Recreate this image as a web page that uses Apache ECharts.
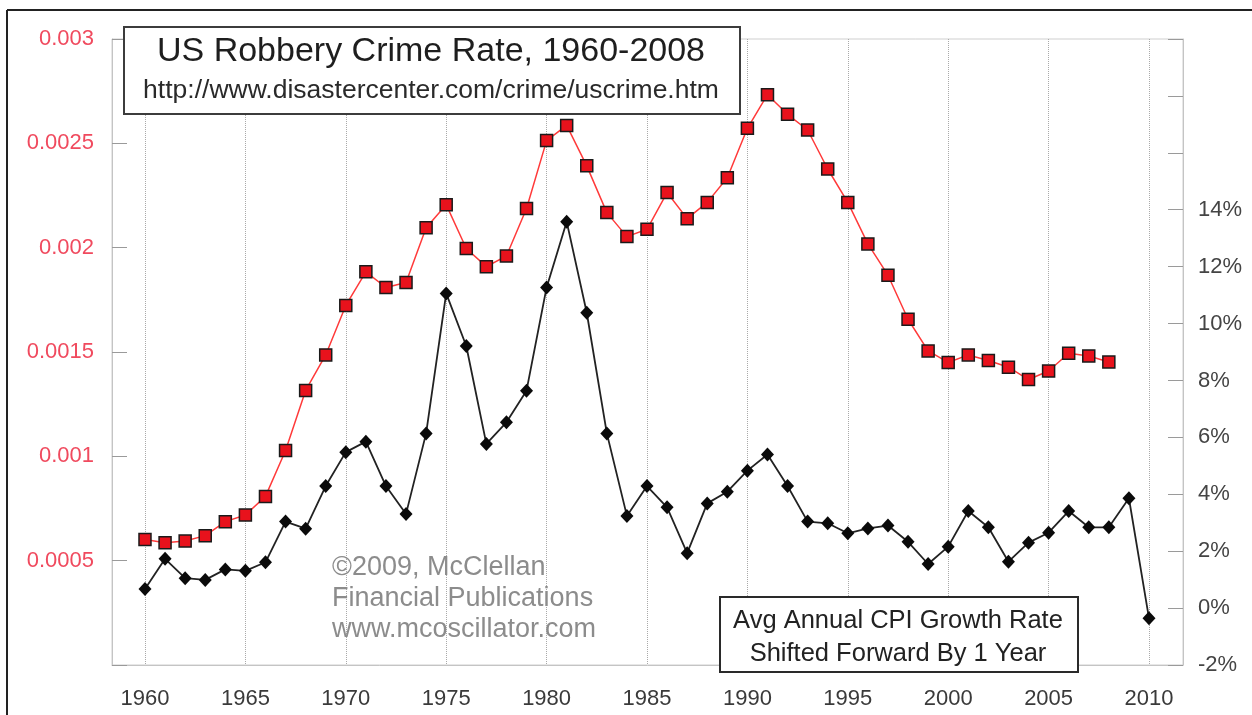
<!DOCTYPE html>
<html>
<head>
<meta charset="utf-8">
<script src="https://cdn.jsdelivr.net/npm/echarts@6/dist/echarts.min.js"></script>
<style>html,body{margin:0;padding:0;background:#fff;}#chart{width:1252px;height:715px;}</style>
</head>
<body>
<div id="chart"></div>
<script>
// ---- data ----
const robberyYears = [1960,1961,1962,1963,1964,1965,1966,1967,1968,1969,1970,1971,1972,1973,1974,1975,1976,1977,1978,1979,1980,1981,1982,1983,1984,1985,1986,1987,1988,1989,1990,1991,1992,1993,1994,1995,1996,1997,1998,1999,2000,2001,2002,2003,2004,2005,2006,2007,2008];
const robberyRate = [0.000601,0.000586,0.000594,0.000620,0.000687,0.000719,0.000808,0.001028,0.001316,0.001486,0.001723,0.001884,0.001809,0.001833,0.002095,0.002206,0.001996,0.001909,0.001960,0.002188,0.002513,0.002586,0.002392,0.002168,0.002053,0.002088,0.002264,0.002139,0.002217,0.002335,0.002572,0.002733,0.002639,0.002564,0.002377,0.002217,0.002018,0.001868,0.001657,0.001505,0.001450,0.001486,0.001459,0.001427,0.001368,0.001409,0.001494,0.001481,0.001452];
const cpiYears = [1960,1961,1962,1963,1964,1965,1966,1967,1968,1969,1970,1971,1972,1973,1974,1975,1976,1977,1978,1979,1980,1981,1982,1983,1984,1985,1986,1987,1988,1989,1990,1991,1992,1993,1994,1995,1996,1997,1998,1999,2000,2001,2002,2003,2004,2005,2006,2007,2008,2009,2010];
const cpiGrowth = [0.67,1.73,1.05,0.99,1.36,1.31,1.61,3.04,2.79,4.29,5.48,5.85,4.29,3.31,6.14,11.06,9.21,5.77,6.53,7.64,11.27,13.58,10.38,6.14,3.24,4.29,3.54,1.93,3.68,4.09,4.83,5.40,4.29,3.04,2.98,2.63,2.80,2.90,2.33,1.55,2.16,3.41,2.84,1.63,2.30,2.65,3.41,2.84,2.84,3.86,-0.36];
const xTickYears = [1960,1965,1970,1975,1980,1985,1990,1995,2000,2005,2010];
const titleText = 'US Robbery Crime Rate, 1960-2008';
const subtitleText = 'http://www.disastercenter.com/crime/uscrime.htm';
const watermarkLines = ['\u00a92009, McClellan', 'Financial Publications', 'www.mcoscillator.com'];
const noteLines = ['Avg Annual CPI Growth Rate', 'Shifted Forward By 1 Year'];

const FONT = "'Liberation Sans', Arial, sans-serif";

const chart = echarts.init(document.getElementById('chart'), null, {renderer: 'canvas'});
const option = {
  backgroundColor: '#ffffff',
  animation: false,
  grid: {left: 112, right: 69, top: 39, bottom: 50, show: true, borderColor: '#cfcfcf', borderWidth: 1},
  xAxis: {
    type: 'value', min: 1958.357, max: 2011.693,
    axisLine: {show: true, lineStyle: {color: '#c4c4c4', width: 1}},
    axisTick: {show: false, customValues: xTickYears},
    axisLabel: {customValues: xTickYears, color: '#3a3a3a', fontFamily: FONT, fontSize: 22, margin: 23,
      formatter: v => String(Math.round(v))},
    splitLine: {show: true, lineStyle: {type: 'dotted', color: '#a9a9a9', width: 1}}
  },
  yAxis: [
    {
      type: 'value', min: 0, max: 0.003, interval: 0.0005, position: 'left',
      axisLine: {show: true, lineStyle: {color: '#c4c4c4'}},
      axisTick: {show: true, inside: true, length: 15, lineStyle: {color: '#9a9a9a'}},
      axisLabel: {color: '#f04a5e', fontFamily: FONT, fontSize: 22, margin: 18,
        formatter: v => v === 0 ? '' : String(Number(v.toFixed(4)))},
      splitLine: {show: false}
    },
    {
      type: 'value', min: -2, max: 20, interval: 2, position: 'right',
      axisLine: {show: true, lineStyle: {color: '#c4c4c4'}},
      axisTick: {show: true, inside: true, length: 15, lineStyle: {color: '#9a9a9a'}},
      axisLabel: {color: '#444444', fontFamily: FONT, fontSize: 22, margin: 15,
        formatter: v => v <= 14 ? v + '%' : ''},
      splitLine: {show: false}
    }
  ],
  series: [
    {
      type: 'line', name: 'Robbery rate', yAxisIndex: 0, z: 3,
      data: robberyYears.map((y, i) => [y, robberyRate[i]]),
      lineStyle: {color: '#ff3a3a', width: 1.5},
      symbol: 'rect', symbolSize: 12,
      itemStyle: {color: '#e8121c', borderColor: '#1a1a1a', borderWidth: 1.5}
    },
    {
      type: 'line', name: 'CPI growth', yAxisIndex: 1, z: 3,
      data: cpiYears.map((y, i) => [y, cpiGrowth[i]]),
      lineStyle: {color: '#222222', width: 1.8},
      symbol: 'diamond', symbolSize: [13, 14],
      itemStyle: {color: '#0a0a0a', borderColor: '#0a0a0a', borderWidth: 0}
    }
  ],
  graphic: [
    {type: 'line', shape: {x1: 7, y1: 10, x2: 1252, y2: 10}, style: {stroke: '#222', lineWidth: 2}, z: 200},
    {type: 'line', shape: {x1: 7, y1: 10, x2: 7, y2: 715}, style: {stroke: '#222', lineWidth: 2}, z: 200},
    {type: 'text', left: 332, top: 552, z: 1,
      style: {text: watermarkLines.join('\n'), font: '27px ' + FONT, fill: '#8c8c8c', lineHeight: 31}},
    {type: 'group', z: 100, children: [
      {type: 'rect', shape: {x: 124, y: 27, width: 616, height: 87}, style: {fill: '#ffffff', stroke: '#3c3c3c', lineWidth: 2}, z: 100},
      {type: 'text', x: 431, y: 52, z: 101, style: {text: titleText, font: '34px ' + FONT, fill: '#1e1e1e', align: 'center', verticalAlign: 'middle'}},
      {type: 'text', x: 431, y: 91, z: 101, style: {text: subtitleText, font: '26.5px ' + FONT, fill: '#2a2a2a', align: 'center', verticalAlign: 'middle'}}
    ]},
    {type: 'group', z: 100, children: [
      {type: 'rect', shape: {x: 720, y: 597, width: 358, height: 75}, style: {fill: '#ffffff', stroke: '#2a2a2a', lineWidth: 2}, z: 100},
      {type: 'text', x: 898, y: 621, z: 101, style: {text: noteLines[0], font: '25.5px ' + FONT, fill: '#222', align: 'center', verticalAlign: 'middle'}},
      {type: 'text', x: 898, y: 654, z: 101, style: {text: noteLines[1], font: '25.5px ' + FONT, fill: '#222', align: 'center', verticalAlign: 'middle'}}
    ]}
  ]
};
chart.setOption(option);
</script>
</body>
</html>
